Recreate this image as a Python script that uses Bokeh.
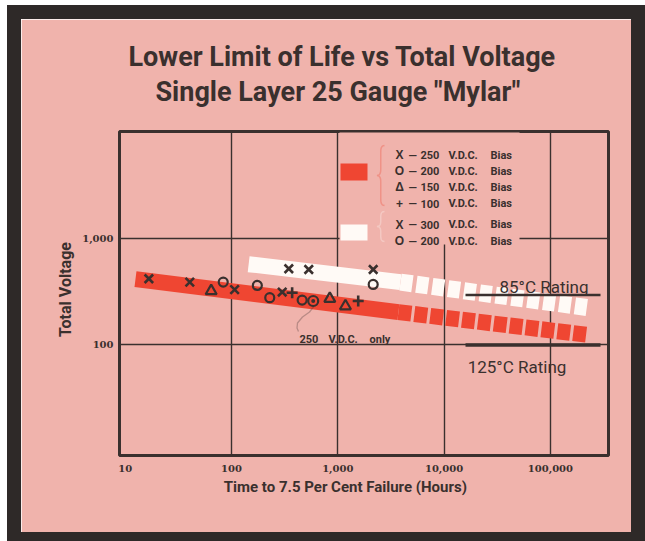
from bokeh.plotting import figure
from bokeh.models import FixedTicker, Label, BoxAnnotation, PolyAnnotation, Range1d, Title
from bokeh.embed import file_html
from bokeh.resources import INLINE

# ---------------- data ----------------
x_ticks = [10, 100, 1000, 10000, 100000]
x_tick_labels = ["10", "100", "1,000", "10,000", "100,000"]
x_grid_ticks = [100, 1000, 10000, 100000]
y_ticks = [100, 1000]
y_tick_labels = ["100", "1,000"]

# lower-limit bands (hours, volts)
red_band_x = [12.5, 3720]
red_band_v = [414, 203]
red_band_ext_x = [3720, 228000]
red_band_ext_v = [203, 124]
white_band_x = [145, 3890]
white_band_v = [571, 388]
white_band_ext_x = [3890, 238000]
white_band_ext_v = [388, 222]

# test points, red group
bias250_x = [16.7, 40.5, 107, 300]
bias250_v = [417, 388, 330, 313]
bias200_x = [83.6, 175, 229, 462]
bias200_v = [388, 361, 277, 263]
only250_x = [587]
only250_v = [258]
bias150_x = [64.4, 841, 1180]
bias150_v = [320, 271, 231]
bias100_x = [372, 1556]
bias100_v = [308, 258]
# test points, white group
w300_x = [346, 533, 2153]
w300_v = [517, 509, 509]
w200_x = [2153]
w200_v = [369]

# ratings
rating85_x = [15900, 296000]
rating85_v = [293, 293]
rating125_x = [15900, 296000]
rating125_v = [100, 100]

legend_red = [("X", "250"), ("O", "200"), ("Δ", "150"), ("+", "100")]
legend_white = [("X", "300"), ("O", "200")]

title_1 = "Lower Limit of Life vs Total Voltage"
title_2 = "Single Layer 25 Gauge \"Mylar\""
x_title = "Time to 7.5 Per Cent Failure (Hours)"
y_title = "Total Voltage"

# ---------------- style ----------------
PINK = "#f0b3ac"
RED = "#ef4632"
WHITE = "#fffaf6"
DARK = "#3a302e"
FRAME = "#2e2928"
SANS = "Roboto, 'Liberation Sans', sans-serif"
SERIF = "'DejaVu Serif', serif"
NBSP = "\u00a0"

OX, OY = 21, 19          # where the pink card starts on the page
W, H = 610, 513

p = figure(width=W, height=H, x_axis_type="log", y_axis_type="log",
           x_range=Range1d(8.84, 352000), y_range=Range1d(9.2, 10000),
           output_backend="svg", toolbar_location=None,
           min_border_left=98, min_border_right=23,
           min_border_top=112, min_border_bottom=77,
           background_fill_color=PINK, border_fill_color=PINK,
           outline_line_color=DARK, outline_line_width=3)
p.margin = (OY, 0, 0, OX)
p.styles = {"box-shadow": "0 0 0 14px " + FRAME}

# two-line title: first-added panel sits nearest the frame, p.title outermost
TFONT = dict(text_font=SANS, text_font_size="27px", text_font_style="bold", text_color=DARK)
p.title.text = title_1
p.title.align = "left"
p.title.offset = 9
p.title.standoff = 0.7
p.title.text_font = SANS
p.title.text_font_size = "27px"
p.title.text_font_style = "bold"
p.title.text_color = DARK
p.add_layout(Title(text=NBSP, text_font_size="1px", standoff=21.2, text_color=PINK), "above")
p.add_layout(Title(text=title_2, align="left", offset=36, standoff=0, **TFONT), "above")

for ax, ticks, labels in ((p.xaxis, x_ticks, x_tick_labels), (p.yaxis, y_ticks, y_tick_labels)):
    ax.ticker = FixedTicker(ticks=ticks)
    ax.major_label_overrides = {t: l for t, l in zip(ticks, labels)}
    ax.axis_line_color = None
    ax.major_tick_line_color = None
    ax.minor_tick_line_color = None
    ax.major_tick_out = 0
    ax.major_tick_in = 0
    ax.minor_tick_out = 0
    ax.major_label_text_font = SERIF
    ax.major_label_text_font_style = "bold"
    ax.major_label_text_font_size = "10px"
    ax.major_label_text_color = DARK
    ax.axis_label_text_font = SANS
    ax.axis_label_text_font_style = "bold"
    ax.axis_label_text_color = DARK

p.xaxis.axis_label = x_title + NBSP * 10
p.yaxis.axis_label = NBSP * 2 + y_title
p.xaxis.axis_label_text_font_size = "15px"
p.yaxis.axis_label_text_font_size = "16px"
p.xaxis.major_label_standoff = 9
p.yaxis.major_label_standoff = 6
p.xaxis.axis_label_standoff = 3
p.yaxis.axis_label_standoff = 4

p.xgrid.ticker = FixedTicker(ticks=x_grid_ticks)
p.ygrid.ticker = FixedTicker(ticks=y_ticks)
for g in (p.xgrid, p.ygrid):
    g.grid_line_color = DARK
    g.grid_line_width = 1.4
    g.grid_line_alpha = 1
    g.minor_grid_line_color = None


def cx(px):
    return px - OX


def cy(py):
    return py - OY


def box(l, r, t, b, color, level="annotation"):
    p.add_layout(BoxAnnotation(left=cx(l), right=cx(r), top=cy(t), bottom=cy(b),
                               left_units="canvas", right_units="canvas",
                               top_units="canvas", bottom_units="canvas",
                               fill_color=color, fill_alpha=1, line_color=None,
                               level=level))


def label(x, y, text, size, color=DARK, font=SANS, style="bold", align="left"):
    p.add_layout(Label(x=cx(x), y=cy(y), x_units="canvas", y_units="canvas", text=text,
                       text_font=font, text_font_style=style, text_font_size=size,
                       text_color=color, text_align=align, text_baseline="alphabetic"))


# legend background (hides grid lines behind the legend)
box(339, 519, 132, 244, PINK, level="underlay")

# bands
p.line(red_band_x, red_band_v, line_color=RED, line_width=16, line_cap="butt")
p.line(red_band_ext_x, red_band_ext_v, line_color=RED, line_width=16, line_cap="butt",
       line_dash="13 3")
p.line(white_band_x, white_band_v, line_color=WHITE, line_width=16, line_cap="butt")
p.line(white_band_ext_x, white_band_ext_v, line_color=WHITE, line_width=17, line_cap="butt",
       line_dash="12 4")

# ratings
p.line(rating85_x, rating85_v, line_color=DARK, line_width=2.5)
p.line(rating125_x, rating125_v, line_color=DARK, line_width=3.5)

# markers
MK = dict(line_color=DARK, line_width=2.2, fill_color=None)
XM = dict(line_color=DARK, line_width=2.6)
p.scatter(bias250_x, bias250_v, marker="x", size=12, **XM)
p.scatter(w300_x, w300_v, marker="x", size=12, **XM)
p.scatter(bias200_x, bias200_v, marker="circle", size=9, **MK)
p.scatter(w200_x, w200_v, marker="circle", size=9, **MK)
p.scatter(only250_x, only250_v, marker="circle", size=10, **MK)
p.scatter(only250_x, only250_v, marker="circle", size=4, line_color=None, fill_color=DARK)
p.scatter(bias150_x, bias150_v, marker="triangle", size=11, **MK)
p.scatter(bias100_x, bias100_v, marker="cross", size=11, line_color=DARK, line_width=2.6)

# legend swatches
box(340, 367, 163, 180, RED)
box(340, 367, 224, 240, WHITE)


def brace(xl, xr, yt, yb, color):
    ym = (yt + yb) / 2.0
    xm = (xl + xr) / 2.0
    r = min(6.0, (yb - yt) / 6.0)

    def quad(p0, c, p1, n=6):
        out = []
        for i in range(n + 1):
            t = i / n
            out.append(((1 - t) ** 2 * p0[0] + 2 * (1 - t) * t * c[0] + t * t * p1[0],
                        (1 - t) ** 2 * p0[1] + 2 * (1 - t) * t * c[1] + t * t * p1[1]))
        return out
    pts = quad((xr, yt), (xm, yt), (xm, yt + r))
    pts += quad((xm, ym - r), (xm, ym), (xl, ym))
    pts += quad((xl, ym), (xm, ym), (xm, ym + r))[1:]
    pts += quad((xm, yb - r), (xm, yb), (xr, yb))
    path = pts + pts[-2::-1]
    p.add_layout(PolyAnnotation(xs=[cx(a) for a, _ in path], ys=[cy(b) for _, b in path],
                                xs_units="canvas", ys_units="canvas",
                                fill_alpha=0, line_color=color, line_width=1.5))


brace(376.5, 384, 145, 205, RED)
brace(376.5, 384, 211, 241, WHITE)

rows = list(legend_red) + list(legend_white)
row_base = [154.7, 170.7, 186.7, 203, 224, 240.7]
for (sym, num), yb in zip(rows, row_base):
    label(399, yb, sym, "12px", font="'Liberation Sans', sans-serif", align="center")
    label(408, yb, "\u2014", "11px")
    label(420, yb, num, "11px")
    label(448, yb, "V.D.C.", "11px")
    label(490, yb, "Bias", "11px")

# 250 V.D.C. only annotation
label(299, 338.7, "250", "11px")
label(328, 338.7, "V.D.C.", "11px")
label(369, 338.7, "only", "11px")
curve = [(313.3, 306), (309, 311.5), (302, 316.5), (297, 322.5), (296.5, 327.5), (298, 331)]
cpath = curve + curve[-2::-1]
p.add_layout(PolyAnnotation(xs=[cx(a) for a, _ in cpath], ys=[cy(b) for _, b in cpath],
                            xs_units="canvas", ys_units="canvas",
                            fill_alpha=0, line_color=DARK, line_width=1.3))

# rating texts
label(543.5, 286, "85°C Rating", "17px", style="normal", align="center")
label(516.5, 366, "125°C Rating", "17px", style="normal", align="center")

open("out.html", "w").write(file_html(p, INLINE))
